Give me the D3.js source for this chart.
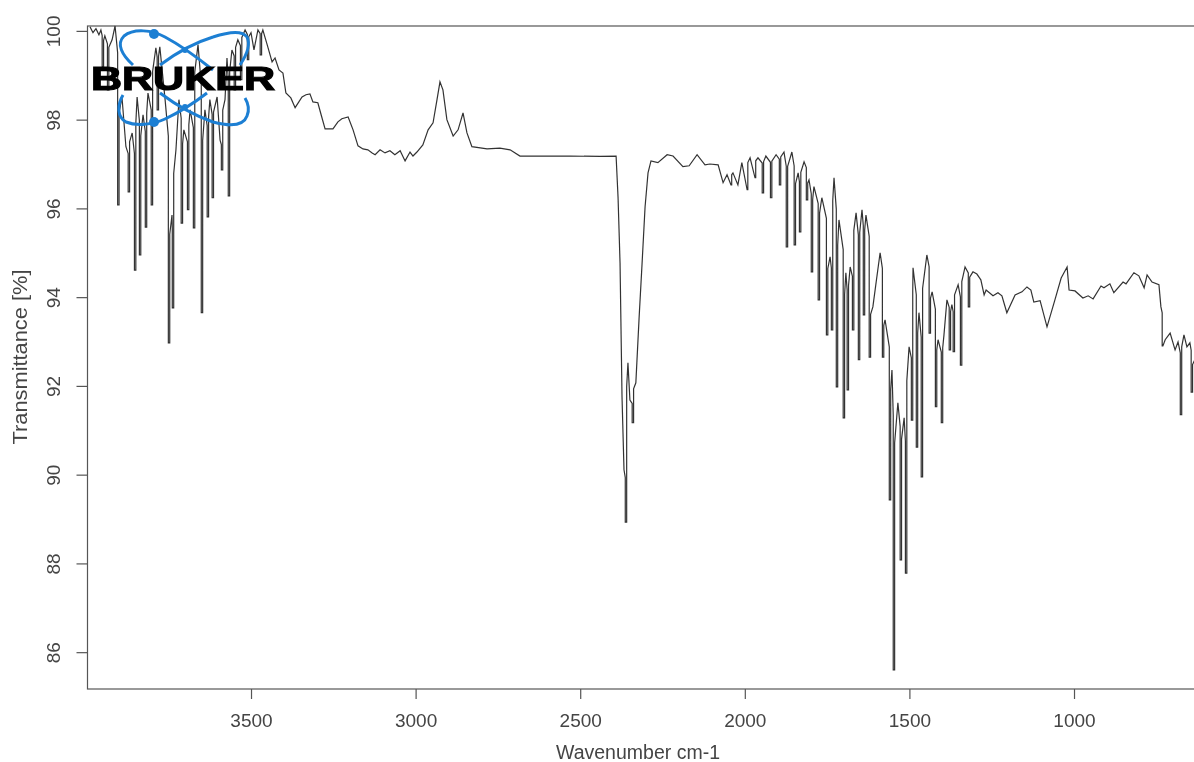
<!DOCTYPE html>
<html>
<head>
<meta charset="utf-8">
<script src="https://cdn.jsdelivr.net/npm/d3@7"></script>
<style>
  html, body { margin: 0; padding: 0; background: #fff; overflow: hidden; }
  text { font-family: "Liberation Sans", Arial, sans-serif; fill: #444; }
</style>
</head>
<body>
<div id="chart"></div>
<script>
// Spectrum, high wavenumber first
const wavenumbers = [
  3989, 3980, 3971, 3962, 3956, 3950, 3944, 3934, 3922, 3913, 3903, 3892, 3880, 3871, 3861, 3852,
  3846, 3837, 3828, 3819, 3813, 3801, 3789, 3783, 3777, 3761, 3749, 3740, 3737, 3728, 3719, 3710,
  3704, 3691, 3685, 3673, 3661, 3649, 3640, 3631, 3625, 3616, 3603, 3594, 3588, 3579, 3573, 3567,
  3558, 3549, 3540, 3530, 3518, 3509, 3500, 3491, 3479, 3470, 3464, 3451, 3436, 3427, 3415, 3403,
  3394, 3379, 3366, 3345, 3333, 3321, 3312, 3297, 3287, 3275, 3251, 3236, 3224, 3205, 3190, 3175,
  3160, 3145, 3132, 3123, 3108, 3093, 3078, 3063, 3047, 3032, 3017, 3008, 2996, 2978, 2962, 2947,
  2935, 2926, 2917, 2905, 2886, 2871, 2856, 2844, 2829, 2783, 2744, 2713, 2683, 2653, 2531, 2440,
  2391, 2385, 2379, 2373, 2367, 2361, 2355, 2349, 2340, 2331, 2321, 2312, 2303, 2294, 2285, 2264,
  2236, 2218, 2188, 2169, 2145, 2121, 2106, 2081, 2066, 2054, 2042, 2036, 2021, 2009, 1993, 1984,
  1969, 1960, 1945, 1936, 1920, 1905, 1893, 1881, 1872, 1857, 1848, 1838, 1832, 1820, 1811, 1805,
  1796, 1790, 1775, 1766, 1750, 1741, 1735, 1729, 1720, 1714, 1699, 1693, 1687, 1680, 1671, 1662,
  1653, 1644, 1638, 1632, 1620, 1611, 1601, 1589, 1580, 1574, 1559, 1553, 1547, 1535, 1526, 1516,
  1510, 1501, 1492, 1489, 1477, 1471, 1462, 1447, 1438, 1431, 1419, 1413, 1401, 1395, 1386, 1377,
  1371, 1365, 1352, 1343, 1331, 1319, 1307, 1295, 1283, 1273, 1267, 1246, 1231, 1219, 1204, 1179,
  1158, 1143, 1131, 1122, 1103, 1082, 1058, 1039, 1021, 1015, 997, 973, 957, 942, 918, 909,
  891, 879, 851, 842, 818, 803, 787, 778, 763, 742, 736, 730, 723, 708, 693, 684,
  675, 666, 657, 648, 642, 633
];
const transmittance = [
  100.09, 99.96, 100.05, 99.91, 100.02, 99.19, 99.89, 98.67, 99.80, 100.11, 96.08, 98.51, 97.39, 96.37, 97.70, 94.61,
  98.51, 94.95, 98.11, 95.58, 98.60, 96.08, 99.62, 98.22, 99.64, 98.45, 92.97, 95.85, 93.76, 97.32, 98.45, 95.67,
  97.77, 95.97, 98.22, 95.56, 99.69, 93.65, 98.22, 95.81, 98.45, 96.24, 98.51, 97.54, 96.87, 98.45, 99.39, 96.28,
  99.57, 98.67, 99.80, 98.90, 100.02, 99.35, 99.96, 99.57, 100.02, 99.46, 100.02, 99.69, 99.30, 99.39, 99.12, 99.05,
  98.60, 98.49, 98.27, 98.51, 98.56, 98.58, 98.40, 98.38, 98.11, 97.79, 97.79, 97.95, 98.02, 98.06, 97.77, 97.41,
  97.34, 97.32, 97.25, 97.21, 97.32, 97.25, 97.30, 97.21, 97.30, 97.07, 97.27, 97.18, 97.27, 97.43, 97.77, 97.93,
  98.45, 98.85, 98.67, 98.00, 97.63, 97.77, 98.15, 97.70, 97.39, 97.34, 97.36, 97.32, 97.18, 97.18, 97.18, 97.17,
  97.18, 96.24, 94.77, 91.75, 90.11, 88.93, 92.52, 91.68, 91.17, 92.07, 93.55, 94.77, 96.03, 96.80, 97.07, 97.03,
  97.21, 97.18, 96.94, 96.96, 97.21, 96.98, 97.00, 96.98, 96.58, 96.76, 96.53, 96.80, 96.53, 97.03, 96.42, 97.14,
  96.69, 97.14, 96.35, 97.18, 96.24, 97.21, 96.53, 97.27, 95.13, 97.27, 95.18, 96.80, 95.47, 97.05, 96.19, 96.64,
  94.57, 96.49, 93.94, 96.24, 93.15, 94.91, 93.26, 96.69, 91.98, 95.74, 91.28, 94.55, 91.91, 94.68, 93.26, 95.90,
  92.59, 95.97, 93.60, 95.85, 92.65, 93.78, 94.34, 95.00, 92.65, 93.49, 89.43, 92.36, 85.60, 91.62, 88.08, 91.28,
  87.78, 92.88, 91.23, 94.66, 90.62, 93.65, 89.95, 94.95, 93.19, 94.12, 91.53, 93.04, 91.17, 93.15, 93.94, 92.81,
  93.83, 92.77, 94.28, 92.47, 94.68, 93.78, 94.57, 94.52, 94.39, 94.05, 94.16, 94.03, 94.10, 94.03, 93.65, 94.05,
  94.12, 94.23, 94.16, 93.89, 93.92, 93.33, 93.94, 94.43, 94.68, 94.16, 94.14, 93.98, 94.03, 93.96, 94.25, 94.21,
  94.30, 94.10, 94.34, 94.30, 94.55, 94.48, 94.21, 94.50, 94.34, 94.28, 93.78, 92.90, 93.04, 93.19, 92.81, 92.99,
  91.35, 93.15, 92.88, 92.97, 91.86, 92.59
];
const xTicks = [3500, 3000, 2500, 2000, 1500, 1000];
const yTicks = [100, 98, 96, 94, 92, 90, 88, 86];
const xDomain = [3996.7, 635.5];
const yDomain = [85.17, 100.11];

const width = 1194;
const height = 762;
const margin = { top: 26, right: 0, bottom: 73, left: 87.5 };
const axisColor = '#555';
const fontFamily = '"Liberation Sans", Arial, sans-serif';

/**
 * Line curve that packs the two flanks of a sharp dip into one narrow bar
 * around the low point, the way the peaks look in the reference. The upper
 * part of each flank and all other segments stay straight.
 * @param {object} context - The path context d3 draws into
 * @return {object} - A d3 curve
 */
function curveSpikes(context) {
  const halfBar = 0.7;
  const openPart = 0.15;
  let pts = [];

  function isSteep(a, b) {
    return Math.abs(b[1] - a[1]) > 6 * Math.abs(b[0] - a[0]);
  }

  return {
    areaStart() {},
    areaEnd() {},
    lineStart() { pts = []; },
    point(px, py) { pts.push([px, py]); },
    lineEnd() {
      pts.forEach((p, i) => {
        if (i === 0) {
          context.moveTo(p[0], p[1]);
          return;
        }
        const prev = pts[i - 1];
        const before = pts[i - 2];
        const next = pts[i + 1];
        const down = p[1] > prev[1];
        if (down && next && next[1] < p[1] && isSteep(prev, p)) {
          // Falling into a dip
          const barX = p[0] - halfBar;
          context.lineTo(barX, prev[1] + (p[1] - prev[1]) * openPart);
          context.lineTo(barX, p[1]);
          context.lineTo(p[0], p[1]);
        } else if (!down && before && before[1] < prev[1] && isSteep(prev, p)) {
          // Climbing out of a dip
          const barX = prev[0] + halfBar;
          context.lineTo(barX, prev[1]);
          context.lineTo(barX, p[1] + (prev[1] - p[1]) * openPart);
          context.lineTo(p[0], p[1]);
        } else {
          context.lineTo(p[0], p[1]);
        }
      });
    }
  };
}

const svg = d3.select('#chart').append('svg')
    .attr('width', width)
    .attr('height', height)
    .style('display', 'block');

// The reference is a soft, resampled bitmap
svg.append('filter')
    .attr('id', 'soft')
  .append('feGaussianBlur')
    .attr('stdDeviation', 0.45);

const root = svg.append('g').attr('filter', 'url(#soft)');

const x = d3.scaleLinear()
    .domain(xDomain)
    .range([margin.left, width - margin.right]);
const y = d3.scaleLinear()
    .domain(yDomain)
    .range([height - margin.bottom, margin.top]);

// Plot box, runs off the right edge of the page
root.append('rect')
    .attr('x', margin.left)
    .attr('y', margin.top)
    .attr('width', width - margin.left + 5)
    .attr('height', height - margin.top - margin.bottom)
    .attr('fill', 'none')
    .attr('stroke', axisColor)
    .attr('stroke-width', 1.2);

const spectrum = d3.line()
    .x((d, i) => x(wavenumbers[i]))
    .y(d => y(d))
    .curve(curveSpikes);

root.append('path')
    .datum(transmittance)
    .attr('d', spectrum)
    .attr('fill', 'none')
    .attr('stroke', '#333')
    .attr('stroke-width', 1.2);

// Axes
const xAxis = root.append('g')
    .attr('transform', `translate(0, ${height - margin.bottom})`)
    .call(d3.axisBottom(x).tickValues(xTicks).tickSize(10).tickPadding(15).tickFormat(d3.format('d')));
const yAxis = root.append('g')
    .attr('transform', `translate(${margin.left}, 0)`)
    .call(d3.axisLeft(y).tickValues(yTicks).tickSize(11).tickPadding(0).tickFormat(d3.format('d')));

[xAxis, yAxis].forEach((g) => {
  g.select('.domain').remove();
  g.selectAll('line').attr('stroke', axisColor).attr('stroke-width', 1.2);
  g.selectAll('text')
      .attr('font-size', 19)
      .style('font-family', fontFamily)
      .attr('fill', '#444');
});

// R style rotated y labels
yAxis.selectAll('text')
    .attr('text-anchor', 'middle')
    .attr('dy', null)
    .attr('x', null)
    .attr('transform', 'translate(-28, 0) rotate(-90)');

root.append('text')
    .attr('transform', 'translate(27, 357) rotate(-90)')
    .attr('text-anchor', 'middle')
    .attr('font-size', 20)
    .attr('textLength', 175)
    .attr('lengthAdjust', 'spacingAndGlyphs')
    .text('Transmittance [%]');
root.append('text')
    .attr('x', 638)
    .attr('y', 759)
    .attr('text-anchor', 'middle')
    .attr('font-size', 19.5)
    .text('Wavenumber cm-1');

// Vendor logo stamped over the spectrum
const logo = root.append('g');
const orbits = [
  'M133,65 C122,55 116,44 124,36 C134,28 152,30 165,37 C180,45 198,58 213,70',
  'M160,65 C172,56 190,44 213,37 C228,32 242,30 247,37 C251,45 246,56 240,65',
  'M123,95 C117,105 117,117 126,122 C136,126 152,125 165,119 C180,112 194,103 207,93',
  'M160,93 C172,102 190,114 213,122 C228,126 243,127 247,116 C250,109 248,103 245,98'
];
logo.selectAll('path')
    .data(orbits)
  .enter().append('path')
    .attr('d', d => d)
    .attr('fill', 'none')
    .attr('stroke', '#1f7fd3')
    .attr('stroke-width', 3);
logo.selectAll('circle')
    .data([[154, 34, 5], [154, 122, 5], [185, 50, 3], [185, 107, 3]])
  .enter().append('circle')
    .attr('cx', d => d[0])
    .attr('cy', d => d[1])
    .attr('r', d => d[2])
    .attr('fill', '#1f7fd3');
logo.append('text')
    .attr('x', 91)
    .attr('y', 90)
    .attr('textLength', 184)
    .attr('lengthAdjust', 'spacingAndGlyphs')
    .attr('font-size', 33)
    .attr('font-weight', 'bold')
    .style('fill', '#000')
    .style('stroke', '#000')
    .style('stroke-width', 1.2)
    .text('BRUKER');
</script>
</body>
</html>
